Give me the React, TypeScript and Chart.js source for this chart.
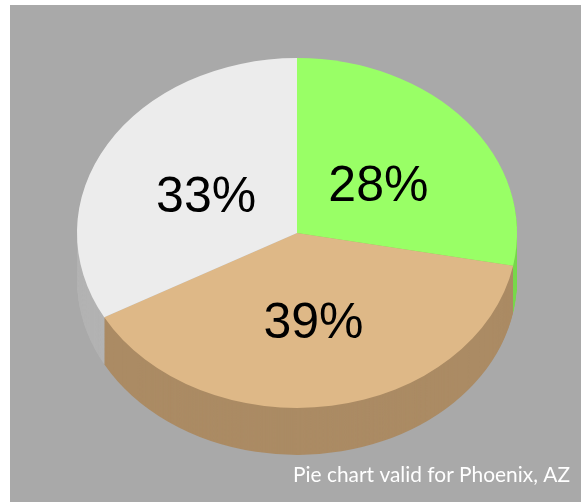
import React, { useEffect, useRef } from 'react';
import { Chart, registerables } from 'chart.js';

Chart.register(...registerables);

// ---- data ----
const categories = ['Slice A', 'Slice B', 'Slice C'];
const values = [28, 39, 33];
const valueLabels = ['28%', '39%', '33%'];
const topColors = ['#99ff66', '#deb887', '#ececec'];
const sideColors = ['#78d84c', '#ab8b64', '#b3b3b3'];
const footnote = 'Pie chart valid for Phoenix, AZ';

const TILT = 0.795;
const DEPTH = 47;
const CANVAS_W = 571;
const CANVAS_H = 497;

const pie3d = {
  id: 'pie3d',
  beforeDatasetsDraw(chart: any) {
    const ctx = chart.ctx;
    const arcs = chart.getDatasetMeta(0).data;
    ctx.save();
    if (!arcs.length) return;
    const cx = arcs[0].x;
    const cy = arcs[0].y;
    ctx.translate(cx, cy);
    ctx.scale(1, TILT);
    ctx.translate(-cx, -cy);
    for (let d = DEPTH; d >= 1; d--) {
      arcs.forEach((arc: any, i: number) => {
        const { x, y, startAngle, endAngle, outerRadius } = arc.getProps(
          ['x', 'y', 'startAngle', 'endAngle', 'outerRadius'],
          true
        );
        const oy = y + d / TILT;
        ctx.beginPath();
        ctx.moveTo(x, oy);
        ctx.arc(x, oy, outerRadius, startAngle, endAngle);
        ctx.closePath();
        ctx.fillStyle = sideColors[i];
        ctx.fill();
      });
    }
  },
  afterDatasetsDraw(chart: any) {
    const ctx = chart.ctx;
    ctx.restore();
    const arcs = chart.getDatasetMeta(0).data;
    ctx.save();
    ctx.fillStyle = '#000';
    ctx.font = '50px "Liberation Sans", Arial, sans-serif';
    ctx.textAlign = 'center';
    ctx.textBaseline = 'middle';
    arcs.forEach((arc: any, i: number) => {
      const { x, y, startAngle, endAngle, outerRadius } = arc.getProps(
        ['x', 'y', 'startAngle', 'endAngle', 'outerRadius'],
        true
      );
      const mid = (startAngle + endAngle) / 2;
      const r = outerRadius * 0.48;
      const lx = x + Math.cos(mid) * r;
      const ly = y + Math.sin(mid) * r * TILT + 8;
      ctx.fillText(valueLabels[i], lx, ly);
    });
    ctx.restore();
  },
  afterDraw(chart: any) {
    const ctx = chart.ctx;
    ctx.save();
    ctx.fillStyle = '#ffffff';
    ctx.font = '20.9px Lato, "Open Sans", sans-serif';
    ctx.textAlign = 'right';
    ctx.textBaseline = 'alphabetic';
    ctx.fillText(footnote, 560, 477);
    ctx.restore();
  },
};

export default function App() {
  const ref = useRef<HTMLCanvasElement>(null);
  useEffect(() => {
    if (!ref.current) return;
    const chart = new Chart(ref.current, {
      type: 'pie',
      data: {
        labels: categories,
        datasets: [
          {
            data: values,
            backgroundColor: topColors,
            borderWidth: 0,
            offset: 0,
            hoverOffset: 0,
            radius: 220,
            clip: false,
          } as any,
        ],
      },
      options: {
        responsive: false,
        animation: false,
        events: [],
        layout: { padding: { left: 20, right: 17, top: 0, bottom: 41 } },
        plugins: {
          legend: { display: false },
          tooltip: { enabled: false },
        },
      },
      plugins: [pie3d],
    });
    return () => chart.destroy();
  }, []);
  return (
    <div
      style={{
        position: 'absolute',
        left: 10,
        top: 5,
        width: CANVAS_W,
        height: CANVAS_H,
        background: '#a9a9a9',
      }}
    >
      <canvas ref={ref} width={CANVAS_W} height={CANVAS_H} style={{ display: 'block' }} />
    </div>
  );
}
